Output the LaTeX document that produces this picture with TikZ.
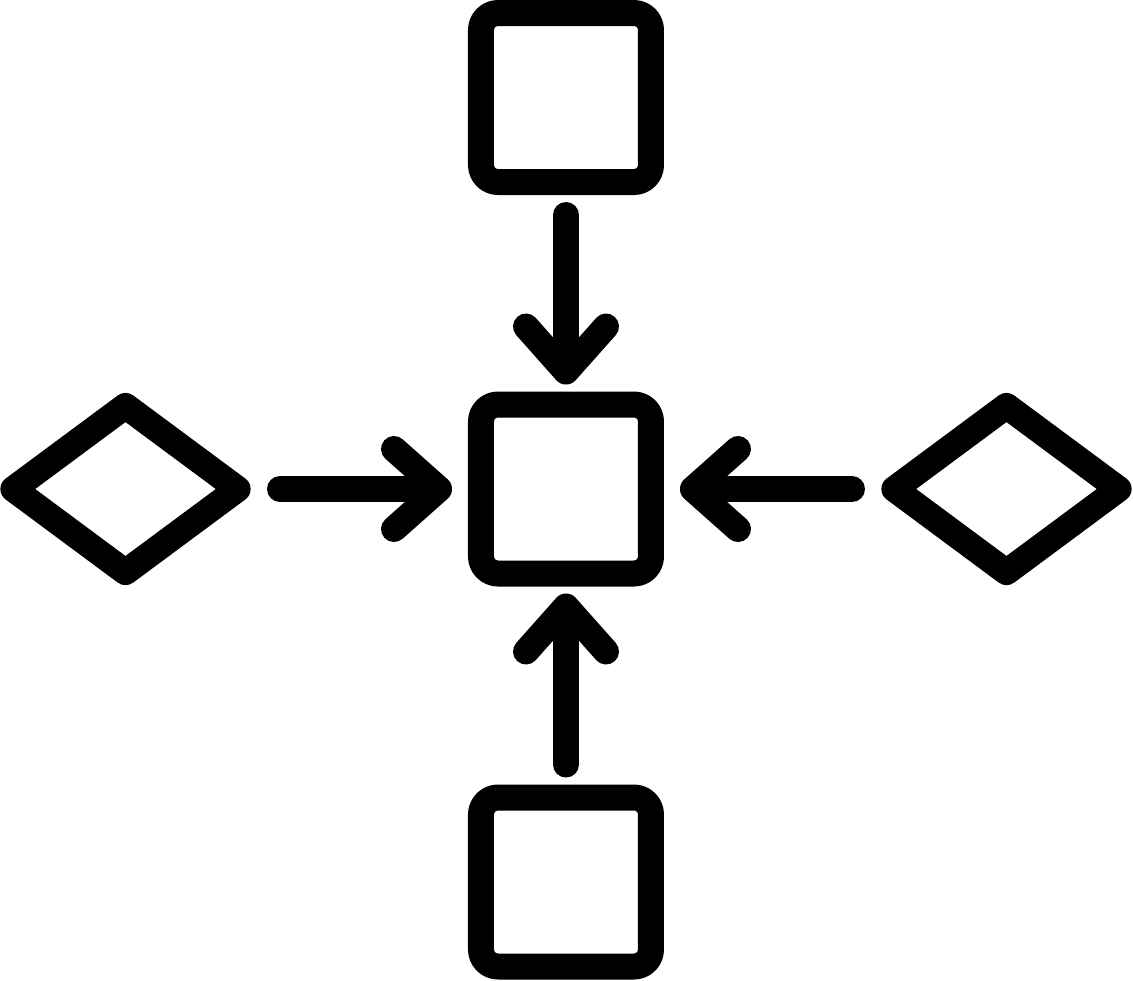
\documentclass[tikz,border=0pt]{standalone}
\usetikzlibrary{shapes.geometric,arrows.meta}
\begin{document}
\begin{tikzpicture}[line width=0.26cm,line cap=round,line join=round,
	box/.style={draw,rounded corners=0.17cm,minimum width=1.7cm,minimum height=1.69cm,inner sep=0pt},
	kite/.style={draw,diamond,minimum width=2.35cm,minimum height=1.77cm,inner sep=0pt},
	arr/.style={-{Straight Barb[round,length=0.45cm,width=0.8cm]}}]
			\useasboundingbox (0,0) rectangle (11.33,-9.8);
			\node[box](top) at (5.66,-0.975){};
			\node[box](mid) at (5.66,-4.89){};
			\node[box](bot) at (5.66,-8.82){};
			\node[kite](west) at (1.255,-4.89){};
			\node[kite](east) at (10.065,-4.89){};
			\draw[arr,shorten <=0.2cm,shorten >=0.07cm](top)--(mid);
			\draw[arr,shorten <=0.2cm,shorten >=0.07cm](bot)--(mid);
			\draw[arr,shorten <=0.24cm,shorten >=0.16cm](west.east)--(mid.west);
			\draw[arr,shorten <=0.24cm,shorten >=0.16cm](east.west)--(mid.east);
		\end{tikzpicture}
\end{document}
